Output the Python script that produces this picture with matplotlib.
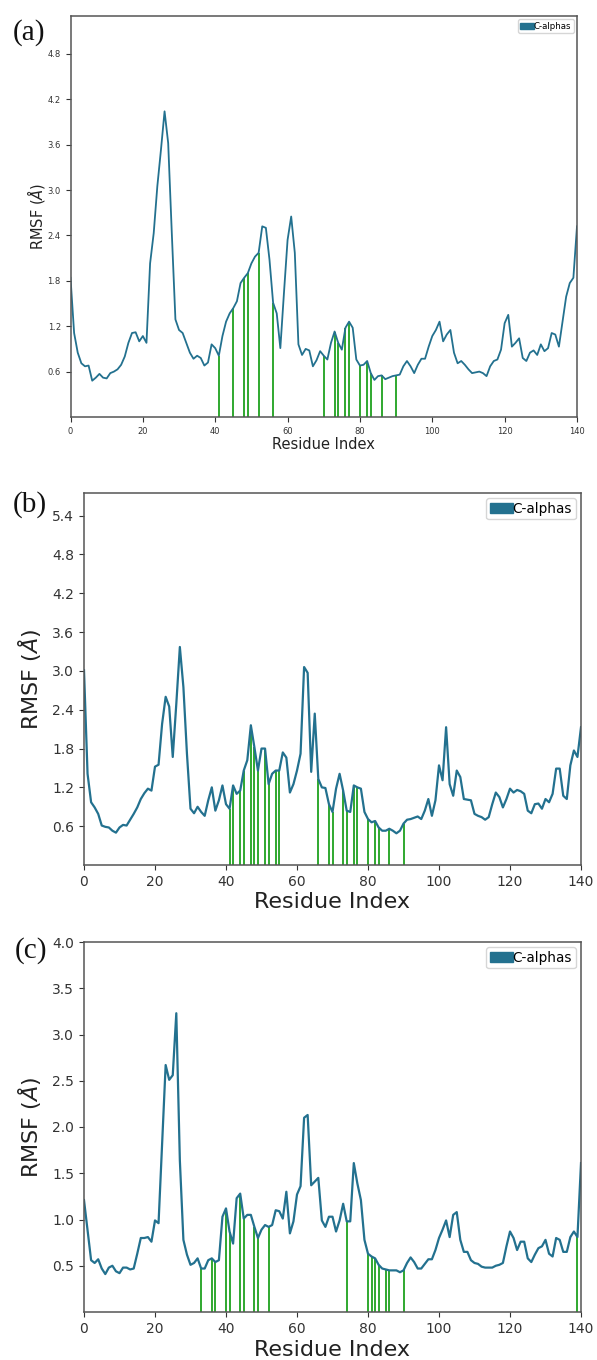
import numpy as np
import matplotlib
matplotlib.use("Agg")
import matplotlib.pyplot as plt
from matplotlib.patches import Patch

residues = np.arange(0, 141)

rmsf_a = [1.84, 1.11, 0.85, 0.71, 0.67, 0.68, 0.48, 0.52, 0.57, 0.52,
          0.51, 0.58, 0.60, 0.63, 0.69, 0.80, 0.98, 1.11, 1.12, 1.00,
          1.07, 0.98, 2.03, 2.43, 3.05, 3.53, 4.04, 3.62, 2.43, 1.29,
          1.15, 1.11, 0.98, 0.85, 0.77, 0.81, 0.78, 0.68, 0.72, 0.96,
          0.91, 0.81, 1.07, 1.26, 1.37, 1.44, 1.53, 1.77, 1.84, 1.90,
          2.03, 2.12, 2.17, 2.52, 2.50, 2.08, 1.51, 1.37, 0.91, 1.64,
          2.34, 2.65, 2.17, 0.96, 0.82, 0.90, 0.88, 0.67, 0.75, 0.87,
          0.81, 0.76, 0.98, 1.13, 0.98, 0.89, 1.18, 1.26, 1.18, 0.76,
          0.68, 0.69, 0.74, 0.58, 0.49, 0.54, 0.55, 0.50, 0.52, 0.54,
          0.55, 0.56, 0.67, 0.74, 0.67, 0.58, 0.69, 0.77, 0.77, 0.93,
          1.07, 1.15, 1.26, 1.00, 1.09, 1.15, 0.85, 0.71, 0.74, 0.69,
          0.63, 0.58, 0.59, 0.60, 0.58, 0.54, 0.67, 0.74, 0.76, 0.89,
          1.24, 1.35, 0.93, 0.98, 1.04, 0.78, 0.74, 0.85, 0.88, 0.82,
          0.96, 0.87, 0.91, 1.11, 1.09, 0.93, 1.26, 1.59, 1.77, 1.84,
          2.52]

rmsf_b = [3.01, 1.41, 0.97, 0.89, 0.79, 0.61, 0.59, 0.58, 0.53, 0.50,
          0.58, 0.62, 0.61, 0.70, 0.79, 0.89, 1.02, 1.11, 1.18, 1.15,
          1.52, 1.55, 2.18, 2.60, 2.45, 1.67, 2.49, 3.37, 2.75, 1.72,
          0.87, 0.80, 0.90, 0.82, 0.76, 1.00, 1.20, 0.84, 1.00, 1.23,
          0.94, 0.87, 1.23, 1.10, 1.15, 1.46, 1.62, 2.16, 1.82, 1.46,
          1.80, 1.80, 1.25, 1.41, 1.46, 1.46, 1.74, 1.66, 1.12, 1.25,
          1.46, 1.72, 3.06, 2.97, 1.44, 2.34, 1.33, 1.20, 1.19, 0.94,
          0.82, 1.18, 1.41, 1.15, 0.84, 0.82, 1.23, 1.20, 1.18, 0.82,
          0.71, 0.66, 0.68, 0.58, 0.53, 0.53, 0.56, 0.53, 0.49, 0.53,
          0.64, 0.70, 0.71, 0.73, 0.75, 0.71, 0.84, 1.02, 0.76, 1.00,
          1.54, 1.31, 2.13, 1.25, 1.07, 1.46, 1.36, 1.02, 1.01, 1.00,
          0.79, 0.76, 0.74, 0.70, 0.74, 0.94, 1.12, 1.05, 0.89, 1.02,
          1.18, 1.12, 1.16, 1.14, 1.10, 0.84, 0.80, 0.94, 0.95, 0.87,
          1.02, 0.97, 1.10, 1.49, 1.49, 1.07, 1.02, 1.54, 1.77, 1.67,
          2.13]

rmsf_c = [1.21, 0.89, 0.56, 0.53, 0.57, 0.47, 0.41, 0.48, 0.50, 0.44,
          0.42, 0.48, 0.48, 0.46, 0.47, 0.63, 0.80, 0.80, 0.81, 0.76,
          0.99, 0.96, 1.82, 2.67, 2.51, 2.56, 3.23, 1.64, 0.78, 0.62,
          0.51, 0.53, 0.58, 0.47, 0.47, 0.56, 0.58, 0.54, 0.56, 1.03,
          1.12, 0.87, 0.74, 1.23, 1.28, 1.01, 1.05, 1.05, 0.92, 0.80,
          0.89, 0.94, 0.92, 0.94, 1.10, 1.09, 1.01, 1.30, 0.85, 0.98,
          1.27, 1.36, 2.10, 2.13, 1.37, 1.41, 1.45, 0.99, 0.92, 1.03,
          1.03, 0.87, 0.99, 1.17, 0.98, 0.98, 1.61, 1.39, 1.21, 0.78,
          0.63, 0.60, 0.58, 0.51, 0.47, 0.46, 0.45, 0.45, 0.45, 0.43,
          0.45, 0.53, 0.59, 0.54, 0.47, 0.47, 0.52, 0.57, 0.57, 0.67,
          0.80, 0.89, 0.99, 0.81, 1.05, 1.08, 0.78, 0.65, 0.65, 0.56,
          0.53, 0.52, 0.49, 0.48, 0.48, 0.48, 0.50, 0.51, 0.53, 0.71,
          0.87, 0.80, 0.67, 0.76, 0.76, 0.58, 0.54, 0.62, 0.69, 0.71,
          0.78, 0.63, 0.60, 0.80, 0.78, 0.65, 0.65, 0.81, 0.87, 0.81,
          1.61]

contacts_a = [41, 45, 48, 49, 52, 56, 70, 73, 74, 76, 77, 80, 82, 83, 86, 90]
contacts_b = [41, 42, 44, 45, 47, 48, 49, 51, 52, 54, 55, 66, 69, 70, 73, 74,
              76, 77, 80, 82, 83, 86, 90]
contacts_c = [33, 36, 37, 40, 41, 44, 45, 48, 49, 52, 74, 80, 81, 82, 83, 85,
              86, 90, 139]

panel_labels = ["(a)", "(b)", "(c)"]
yticks_a = [0.6, 1.2, 1.8, 2.4, 3.0, 3.6, 4.2, 4.8]
yticks_b = [0.6, 1.2, 1.8, 2.4, 3.0, 3.6, 4.2, 4.8, 5.4]
yticks_c = [0.5, 1.0, 1.5, 2.0, 2.5, 3.0, 3.5, 4.0]
xticks = [0, 20, 40, 60, 80, 100, 120, 140]
legend_label = "C-alphas"

W, H = 597, 1360
fig = plt.figure(figsize=(W / 100, H / 100), dpi=100)
fig.patch.set_facecolor("white")

LINE = "#23718f"
GREEN = "#0c9a0c"


def px_axes(left, right, top, bottom):
    return fig.add_axes([left / W, 1 - bottom / H, (right - left) / W, (bottom - top) / H])


specs = [
    dict(box=(70.5, 577, 16, 417), y=rmsf_a, c=contacts_a, yt=yticks_a, ylim=5.3,
         tfs=6, lfs=10.5, legfs=6.2, lw=1.3, ylc=(-0.047, 0.5), xlc=(0.5, -0.05),
         lab=(13, 33), hl=1.6),
    dict(box=(84, 581, 493, 865), y=rmsf_b, c=contacts_b, yt=yticks_b, ylim=5.75,
         tfs=10, lfs=16, legfs=9.8, lw=1.6, ylc=(-0.083, 0.5), xlc=(0.5, -0.072),
         lab=(13, 505), hl=1.7),
    dict(box=(84, 581, 942, 1312), y=rmsf_c, c=contacts_c, yt=yticks_c, ylim=4.0,
         tfs=10, lfs=16, legfs=9.8, lw=1.6, ylc=(-0.083, 0.5), xlc=(0.5, -0.076),
         lab=(15, 951), hl=1.7),
]

for sp, plab in zip(specs, panel_labels):
    ax = px_axes(*sp["box"])
    yv = np.array(sp["y"])
    cx = np.array(sp["c"])
    ax.vlines(cx, 0, yv[cx], colors=GREEN, lw=1.2, zorder=1)
    ax.plot(residues, yv, color=LINE, lw=sp["lw"], zorder=2)
    ax.set_xlim(0, 140)
    ax.set_ylim(0, sp["ylim"])
    ax.set_xticks(xticks)
    ax.set_yticks(sp["yt"])
    ax.set_yticklabels([f"{t:.1f}" for t in sp["yt"]])
    ax.tick_params(labelsize=sp["tfs"], colors="#333333", length=3.5, width=0.8)
    for s in ax.spines.values():
        s.set_color("#555555")
        s.set_linewidth(1.1)
    ax.set_xlabel("Residue Index", fontsize=sp["lfs"], color="#222222")
    ax.set_ylabel(r"RMSF ($\AA$)", fontsize=sp["lfs"], color="#222222")
    ax.yaxis.set_label_coords(*sp["ylc"])
    ax.xaxis.set_label_coords(*sp["xlc"])
    leg = ax.legend(handles=[Patch(facecolor=LINE, edgecolor=LINE, label=legend_label)],
                    loc="upper right", fontsize=sp["legfs"], handlelength=sp["hl"],
                    handleheight=0.7, handletextpad=0.0, borderpad=0.25,
                    borderaxespad=0.4, frameon=True, fancybox=True)
    leg.get_frame().set_edgecolor("#cccccc")
    lx, ly = sp["lab"]
    fig.text(lx / W, 1 - ly / H, plab, fontsize=21, family="Liberation Serif",
             ha="left", va="center", color="#111111")

fig.savefig("out.png", dpi=100)
